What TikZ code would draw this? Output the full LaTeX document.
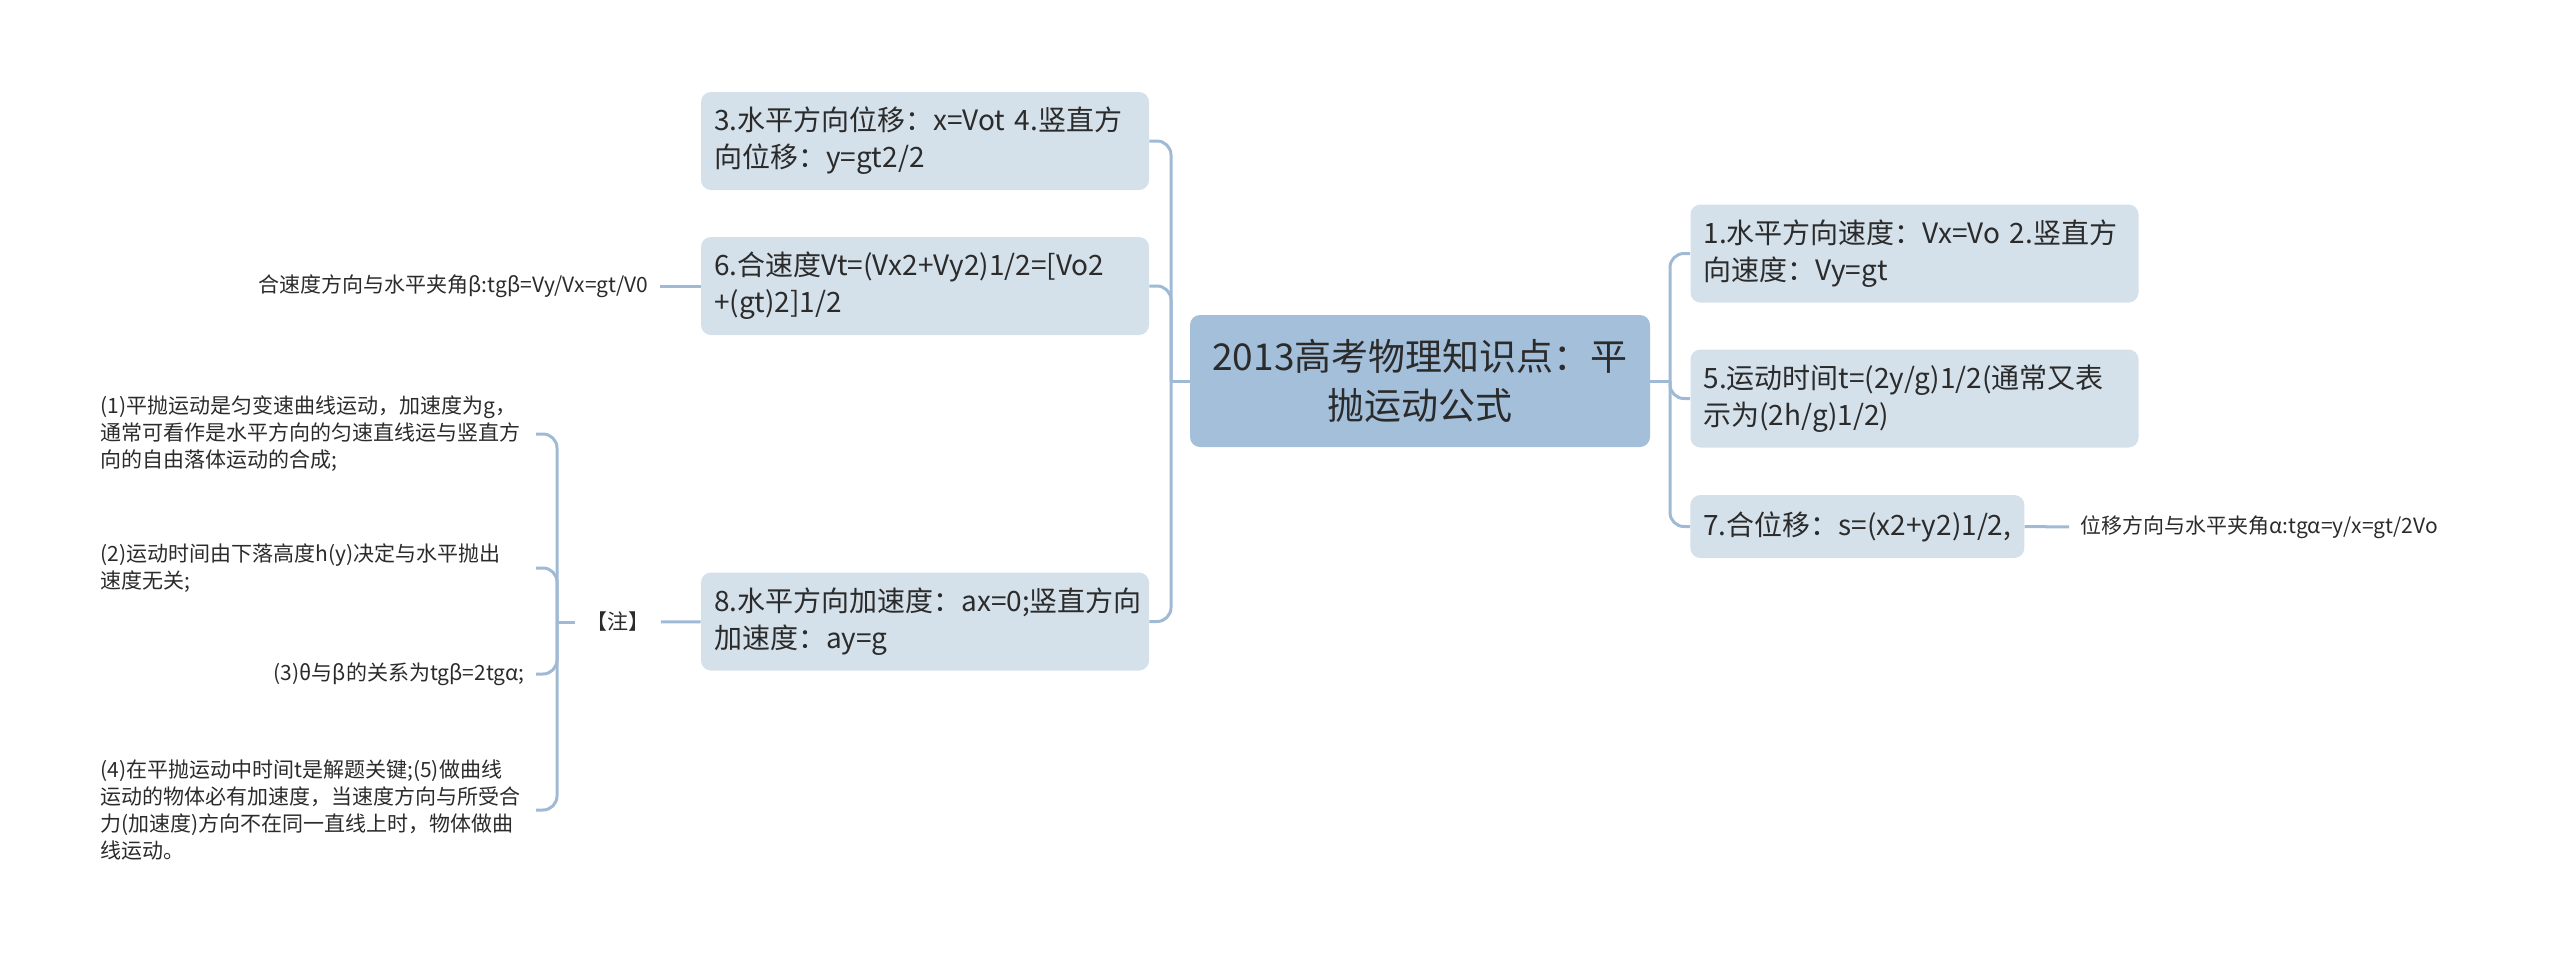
\documentclass[tikz,border=0pt]{standalone}
\usepackage{fontspec}
\setmainfont{Noto Sans CJK SC}
\usetikzlibrary{positioning}
\definecolor{linkc}{HTML}{A0BAD5}
\definecolor{rootc}{HTML}{A3BFDA}
\definecolor{subc}{HTML}{D4E0EA}
\definecolor{textc}{HTML}{2B2B2B}

\begin{document}
\begin{tikzpicture}[x=0.5pt,y=-0.5pt,
 topic/.style={fill=rootc,rounded corners=5pt,minimum width=230pt,minimum height=66pt,align=center,text=textc,font=\fontsize{18.5pt}{24.5pt}\selectfont},
 sub/.style={fill=subc,rounded corners=5pt,minimum height=49pt,inner xsep=6.5pt,align=left,text=textc,font=\fontsize{14pt}{18.5pt}\selectfont},
 leaf/.style={inner xsep=5.5pt,align=left,text=textc,font=\fontsize{10.5pt}{13.5pt}\selectfont},
 link/.style={draw=linkc,line width=1.5pt,rounded corners=7pt}]
\useasboundingbox (0,0) rectangle (2560,966);
\node[topic] (root) at (1420,381) {2013高考物理知识点：平\\抛运动公式};
\node[sub,text width=211pt] (s3) at (925,141) {3.水平方向位移：x=Vot 4.竖直方\\向位移：y=gt2/2};
\node[sub,text width=211pt] (s6) at (925,286) {6.合速度Vt=(Vx2+Vy2)1/2=[Vo2\\+(gt)2]1/2};
\node[sub,text width=211pt] (s8) at (925,621.5) {8.水平方向加速度：ax=0;竖直方向\\加速度：ay=g};
\node[sub,text width=211pt] (s1) at (1914.5,253.5) {1.水平方向速度：Vx=Vo 2.竖直方\\向速度：Vy=gt};
\node[sub,text width=211pt] (s5) at (1914.5,398.5) {5.运动时间t=(2y/g)1/2(通常又表\\示为(2h/g)1/2)};
\node[sub,anchor=west,minimum height=31.5pt] (s7) at (1690,526.5) {7.合位移：s=(x2+y2)1/2,};
\node[leaf,anchor=east] (vb) at (660,286) {合速度方向与水平夹角β:tgβ=Vy/Vx=gt/V0};
\node[leaf,anchor=west] (va) at (2069,527) {位移方向与水平夹角α:tgα=y/x=gt/2Vo};
\node[leaf] (note) at (618,622) {【注】};
\node[leaf,anchor=east,text width=212pt] (n1) at (536,434) {(1)平抛运动是匀变速曲线运动，加速度为g，\\通常可看作是水平方向的匀速直线运与竖直方\\向的自由落体运动的合成;};
\node[leaf,anchor=east,text width=212pt] (n2) at (536,568) {(2)运动时间由下落高度h(y)决定与水平抛出\\速度无关;};
\node[leaf,anchor=east] (n3) at (536,674) {(3)θ与β的关系为tgβ=2tgα;};
\node[leaf,anchor=east,text width=212pt] (n4) at (536,810) {(4)在平抛运动中时间t是解题关键;(5)做曲线\\运动的物体必有加速度，当速度方向与所受合\\力(加速度)方向不在同一直线上时，物体做曲\\线运动。};
\coordinate (lt) at (1171,381);
\coordinate (rt) at (1670,381);
\coordinate (nt) at (557,622);
\draw[link] (root.west) -- (lt);
\draw[link] (root.east) -- (rt);
\foreach \n in {s3,s6,s8} \draw[link] (lt) |- (\n.east);
\foreach \n in {s1,s5,s7} \draw[link] (rt) |- (\n.west);
\draw[link] (vb) -- (s6);
\draw[link] (s7) -- (va);
\draw[link] (note) -- (s8);
\draw[link] (note.west) -- (nt);
\foreach \n in {n1,n2,n3,n4} \draw[link] (nt) |- (\n.east);
\end{tikzpicture}
\end{document}
